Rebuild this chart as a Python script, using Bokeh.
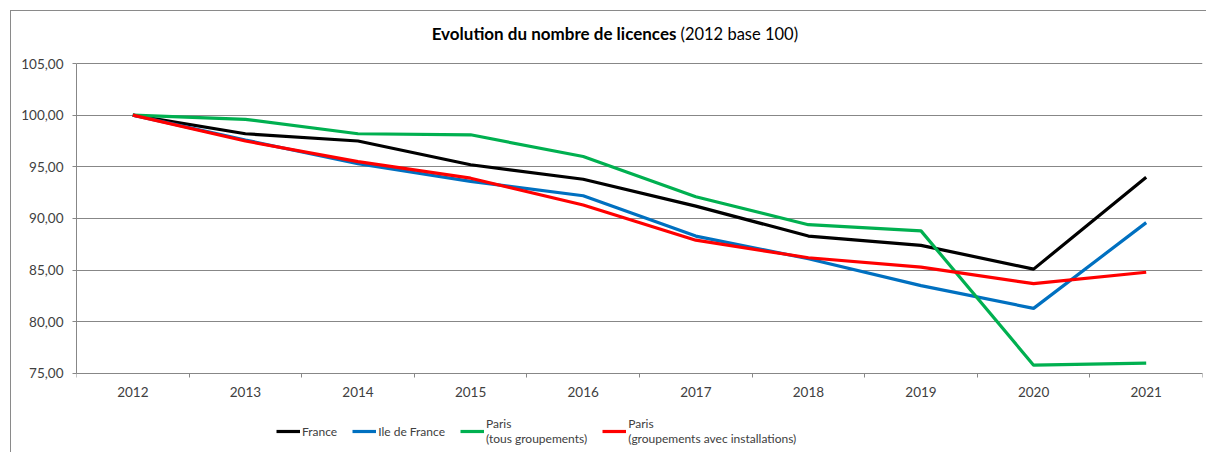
from bokeh.plotting import figure
from bokeh.models import (Range1d, FixedTicker, Legend, LegendItem, Label)
from bokeh.core.properties import value
from bokeh.embed import file_html
from bokeh.resources import INLINE

# ---- data ----
years = ["2012", "2013", "2014", "2015", "2016", "2017", "2018", "2019", "2020", "2021"]
france = [100.0, 98.2, 97.5, 95.2, 93.8, 91.2, 88.3, 87.4, 85.1, 94.0]
ile_de_france = [100.0, 97.6, 95.3, 93.6, 92.2, 88.3, 86.1, 83.5, 81.3, 89.6]
paris_tous = [100.0, 99.6, 98.2, 98.1, 96.0, 92.1, 89.4, 88.8, 75.8, 76.0]
paris_install = [100.0, 97.5, 95.5, 93.9, 91.3, 87.9, 86.2, 85.3, 83.7, 84.8]
series_names = ["France", "Ile de France", "Paris\n(tous groupements)",
                "Paris\n(groupements avec installations)"]
series_colors = ["#000000", "#0070C0", "#00B050", "#FF0000"]
y_ticks = [75, 80, 85, 90, 95, 100, 105]

FONT = "Lato"
TXT = "#404040"
GRID = "#878787"

# layout: the frame also holds the title (above 105) and the legend (below 75)
FRAME_H = 441
PX_PER_UNIT = 10.333
TOP_PAD_UNITS = 52 / PX_PER_UNIT
y_end = y_ticks[-1] + TOP_PAD_UNITS
y_start = y_end - FRAME_H / PX_PER_UNIT

xs = [i + 0.5 for i in range(len(years))]

p = figure(frame_width=1126, frame_height=FRAME_H, output_backend="svg", toolbar_location=None,
           x_range=Range1d(0, len(years)), y_range=Range1d(y_start, y_end),
           min_border_left=65, min_border_right=4, min_border_top=0,
           min_border_bottom=0)
p.styles = {"border-left": "1px solid #8a8a8a", "border-top": "1px solid #8a8a8a",
            "margin-left": "10px", "margin-top": "10px"}
p.outline_line_color = None
p.background_fill_color = "white"
p.border_fill_color = "white"

renderers = []
for vals, col in zip([france, ile_de_france, paris_tous, paris_install], series_colors):
    r = p.line(xs, vals, line_color=col, line_width=3.2)
    renderers.append(r)

# x axis drawn at y = 75 (labels drawn as text under it)
xa = p.xaxis[0]
xa.fixed_location = y_ticks[0]
xa.ticker = FixedTicker(ticks=xs, minor_ticks=list(range(len(years) + 1)))
xa.major_label_overrides = {x: "" for x in xs}
xa.major_label_text_font_size = "0px"
xa.major_label_standoff = 0
xa.major_tick_line_color = None
xa.major_tick_out = 0
xa.major_tick_in = 0
xa.minor_tick_line_color = GRID
xa.minor_tick_out = 4
xa.minor_tick_in = 0
xa.axis_line_color = GRID

p.text(x=xs, y=[y_ticks[0]] * len(xs), text=years, y_offset=19,
       text_font=value(FONT), text_font_size="13.5px", text_color=TXT,
       text_align="center", text_baseline="middle")

ya = p.yaxis[0]
ya.bounds = (y_ticks[0], y_ticks[-1])
ya.ticker = FixedTicker(ticks=y_ticks, minor_ticks=[])
ya.major_label_overrides = {t: f"{t:.2f}".replace(".", ",") for t in y_ticks}
ya.major_tick_line_color = GRID
ya.major_tick_out = 4
ya.major_tick_in = 0
ya.minor_tick_line_color = None
ya.axis_line_color = GRID
ya.major_label_standoff = 9
ya.major_label_text_font = FONT
ya.major_label_text_font_size = "13.5px"
ya.major_label_text_color = TXT

p.xgrid.grid_line_color = None
p.ygrid.grid_line_color = GRID
p.ygrid.grid_line_width = 1

# title: bold part + normal part
TITLE_Y = y_ticks[-1] + 30 / PX_PER_UNIT
p.add_layout(Label(x=5.328, y=TITLE_Y, text="Evolution du nombre de licences",
                   text_font=FONT, text_font_style="bold", text_font_size="17px",
                   text_color="#000000", text_align="right", text_baseline="middle"))
p.add_layout(Label(x=5.364, y=TITLE_Y, text="(2012 base 100)",
                   text_font=FONT, text_font_style="normal", text_font_size="16.5px",
                   text_color="#000000", text_align="left", text_baseline="middle"))

legend = Legend(items=[LegendItem(label=n, renderers=[r]) for n, r in zip(series_names, renderers)],
                orientation="horizontal", location=(200, 6))
legend.glyph_width = 24
legend.glyph_height = 14
legend.label_standoff = 2
legend.spacing = 15
legend.padding = 2
legend.margin = 0
legend.label_text_font = FONT
legend.label_text_font_size = "12px"
legend.label_text_color = TXT
legend.label_text_line_height = 1.3
legend.border_line_color = None
legend.background_fill_alpha = 0
p.add_layout(legend)

open("out.html", "w").write(file_html(p, INLINE))
